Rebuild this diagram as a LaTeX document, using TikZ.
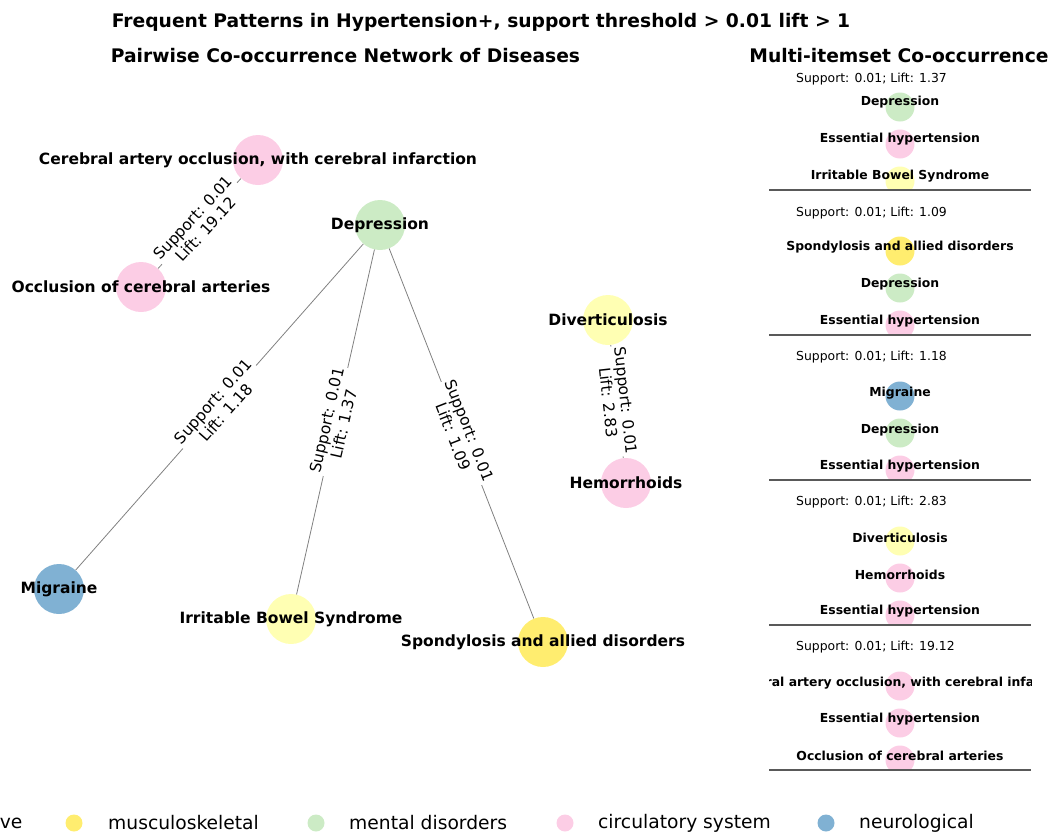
\documentclass[tikz,border=0pt]{standalone}
\usepackage{fontspec}
\setmainfont{DejaVu Sans}
\usepackage{tikz}
\usetikzlibrary{positioning}
\usepackage{xcolor}
\definecolor{digc}{HTML}{FFFFB3}
\definecolor{musc}{HTML}{FFED6F}
\definecolor{menc}{HTML}{CCEBC5}
\definecolor{circc}{HTML}{FCCDE5}
\definecolor{neuc}{HTML}{80B1D3}

\begin{document}
\begin{tikzpicture}[x=1pt,y=-1pt,
  dot/.style={circle,minimum size=50pt,inner sep=0pt},
  sdot/.style={circle,minimum size=29pt,inner sep=0pt},
  lab/.style={font=\bfseries\fontsize{15.5}{18}\selectfont},
  slab/.style={yshift=-2pt,font=\bfseries\fontsize{12.4}{15}\selectfont},
  hdr/.style={anchor=west,inner sep=0pt,yshift=-2pt,font=\fontsize{12.4}{15}\selectfont},
  elab/.style={sloped,fill=white,inner sep=1.5pt,align=center,font=\fontsize{15.5}{17.5}\selectfont},
  edge/.style={draw=gray,line width=0.8pt},
  sepline/.style={draw=black!65,line width=1.5pt},
  ttl/.style={font=\bfseries\fontsize{18.7}{22}\selectfont},
  legdot/.style={circle,minimum size=17pt,inner sep=0pt},
  leg/.style={anchor=west,inner sep=0pt,font=\fontsize{18.7}{22}\selectfont}]
\useasboundingbox (0,0) rectangle (1056,835);

% titles
\node[ttl] (title) at (481,22) {Frequent Patterns in Hypertension+, support threshold > 0.01 lift > 1};
\node[ttl] (ltitle) at (345.5,56) {Pairwise Co-occurrence Network of Diseases};
\node[ttl] (rtitle) at (899,56) {Multi-itemset Co-occurrence};

% pairwise network
\node[dot,fill=circc] (cer) at (258,160) {};
\node[dot,fill=circc] (occ) at (141,287) {};
\node[dot,fill=menc] (dep) at (380,225) {};
\node[dot,fill=digc] (div) at (608,320) {};
\node[dot,fill=circc] (hem) at (626,483) {};
\node[dot,fill=neuc] (mig) at (59,589) {};
\node[dot,fill=digc] (ibs) at (291,619) {};
\node[dot,fill=musc] (spo) at (543,642) {};

\draw[edge] (occ) -- node[elab]{Support: 0.01\\Lift: 19.12} (cer);
\draw[edge] (mig) -- node[elab]{Support: 0.01\\Lift: 1.18} (dep);
\draw[edge] (ibs) -- node[elab]{Support: 0.01\\Lift: 1.37} (dep);
\draw[edge] (dep) -- node[elab]{Support: 0.01\\Lift: 1.09} (spo);
\draw[edge] (div) -- node[elab]{Support: 0.01\\Lift: 2.83} (hem);

\node[lab] (cer-t) at (cer) {Cerebral artery occlusion, with cerebral infarction};
\node[lab] (occ-t) at (occ) {Occlusion of cerebral arteries};
\node[lab] (dep-t) at (dep) {Depression};
\node[lab] (div-t) at (div) {Diverticulosis};
\node[lab] (hem-t) at (hem) {Hemorrhoids};
\node[lab] (mig-t) at (mig) {Migraine};
\node[lab] (ibs-t) at (ibs) {Irritable Bowel Syndrome};
\node[lab] (spo-t) at (spo) {Spondylosis and allied disorders};

% multi-itemset panel
\begin{scope}
\clip (769,62) rectangle (1031,190);
\node[hdr] (h1) at (796,77) {Support: 0.01; Lift: 1.37};
\node[sdot,fill=menc] (a1) at (900,107) {};
\node[sdot,fill=circc] (a2) at (900,144) {};
\node[sdot,fill=digc] (a3) at (900,181) {};
\node[slab] (a1-t) at (900,100) {Depression};
\node[slab] (a2-t) at (900,137) {Essential hypertension};
\node[slab] (a3-t) at (900,174) {Irritable Bowel Syndrome};
\end{scope}

\begin{scope}
\clip (769,190) rectangle (1031,335);
\node[hdr] (h2) at (796,211) {Support: 0.01; Lift: 1.09};
\node[sdot,fill=musc] (b1) at (900,251) {};
\node[sdot,fill=menc] (b2) at (900,288) {};
\node[sdot,fill=circc] (b3) at (900,325) {};
\node[slab] (b1-t) at (900,245) {Spondylosis and allied disorders};
\node[slab] (b2-t) at (900,282) {Depression};
\node[slab] (b3-t) at (900,319) {Essential hypertension};
\end{scope}

\begin{scope}
\clip (769,335) rectangle (1031,480);
\node[hdr] (h3) at (796,355) {Support: 0.01; Lift: 1.18};
\node[sdot,fill=neuc] (c1) at (900,396) {};
\node[sdot,fill=menc] (c2) at (900,433) {};
\node[sdot,fill=circc] (c3) at (900,470) {};
\node[slab] (c1-t) at (900,391) {Migraine};
\node[slab] (c2-t) at (900,428) {Depression};
\node[slab] (c3-t) at (900,464) {Essential hypertension};
\end{scope}

\begin{scope}
\clip (769,480) rectangle (1031,625);
\node[hdr] (h4) at (796,500) {Support: 0.01; Lift: 2.83};
\node[sdot,fill=digc] (d1) at (900,541) {};
\node[sdot,fill=circc] (d2) at (900,578) {};
\node[sdot,fill=circc] (d3) at (900,615) {};
\node[slab] (d1-t) at (900,536) {Diverticulosis};
\node[slab] (d2-t) at (900,573) {Hemorrhoids};
\node[slab] (d3-t) at (900,609) {Essential hypertension};
\end{scope}

\begin{scope}
\clip (769,625) rectangle (1031,770);
\node[hdr] (h5) at (796,645) {Support: 0.01; Lift: 19.12};
\node[sdot,fill=circc] (e1) at (900,686) {};
\node[sdot,fill=circc] (e2) at (900,723) {};
\node[sdot,fill=circc] (e3) at (900,760) {};
\node[slab] (e1-t) at (900,681) {Cerebral artery occlusion, with cerebral infarction};
\node[slab] (e2-t) at (900,717) {Essential hypertension};
\node[slab] (e3-t) at (900,754) {Occlusion of cerebral arteries};
\end{scope}

\foreach \y in {190,335,480,625,770}
  \draw[sepline] (769,\y) -- (1031,\y);

% legend
\node[legdot,fill=digc] (g1) at (-97,823) {};
\node[leg] (g1-t) at (-63,823) {digestive};
\node[legdot,fill=musc] (g2) at (74,823) {};
\node[leg] (g2-t) at (108,823) {musculoskeletal};
\node[legdot,fill=menc] (g3) at (316,823) {};
\node[leg] (g3-t) at (349,823) {mental disorders};
\node[legdot,fill=circc] (g4) at (565,823) {};
\node[leg] (g4-t) at (598,823) {circulatory system};
\node[legdot,fill=neuc] (g5) at (826,823) {};
\node[leg] (g5-t) at (859,823) {neurological};
\end{tikzpicture}
\end{document}
